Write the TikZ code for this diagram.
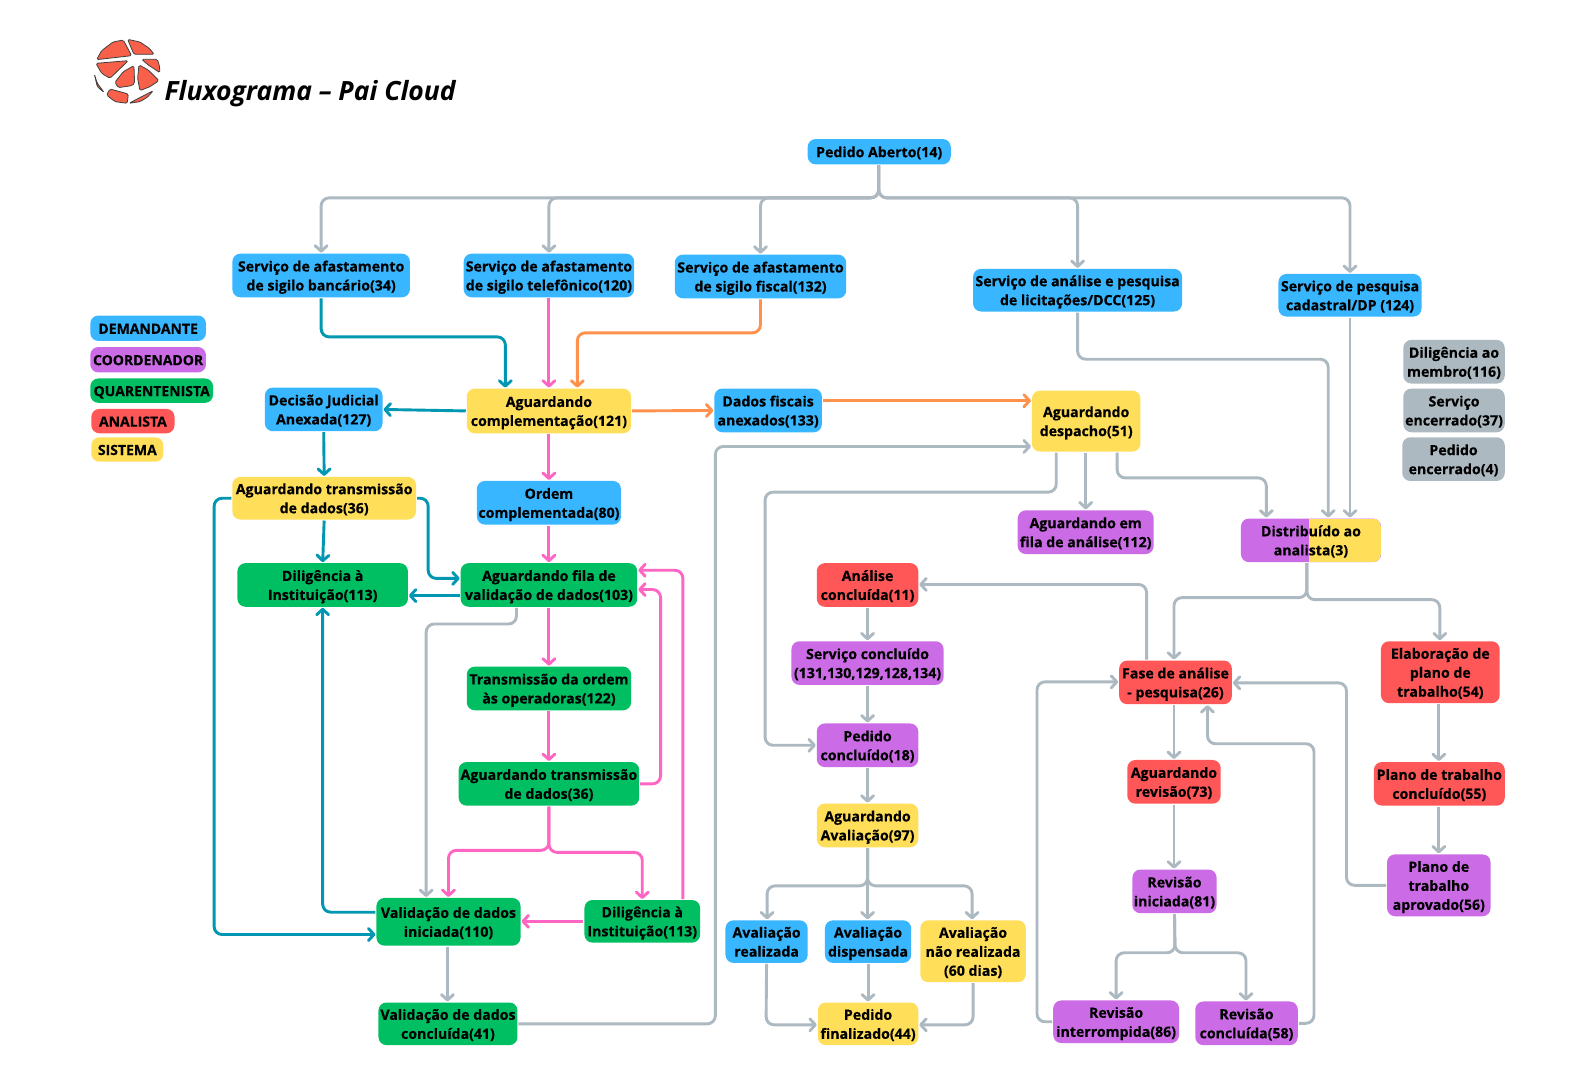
\documentclass[tikz,border=0pt]{standalone}
\usepackage{fontspec}
\setmainfont{Open Sans}[BoldFeatures={FakeBold=0.35}]
\newfontfamily\titlefont{Open Sans}[BoldFeatures={FakeBold=0.6}]
\usetikzlibrary{arrows.meta,calc}
\definecolor{cblue}{HTML}{38B6FF}
\definecolor{cyellow}{HTML}{FFDE59}
\definecolor{cgreen}{HTML}{00BF63}
\definecolor{cred}{HTML}{FF5757}
\definecolor{cpurple}{HTML}{CB6CE6}
\definecolor{cgrey}{HTML}{ADB9C1}
\definecolor{cteal}{HTML}{0097B2}
\definecolor{cpink}{HTML}{FF66C4}
\definecolor{corange}{HTML}{FF914D}
\definecolor{clogo}{HTML}{F9604A}
\tikzset{
  box/.style={rounded corners=8pt,inner sep=0pt,outer sep=0pt,align=center,
    font=\fontsize{14.15}{19}\selectfont\bfseries,text=black},
  legend/.style={box,font=\fontsize{14}{19}\selectfont\bfseries},
  conn/.style={line width=2.9pt,rounded corners=8pt,shorten >=1pt,shorten <=1pt,
    -{Straight Barb[length=5.5pt,width=12pt,round,line width=2.9pt]}},
  frag/.style={fill=clogo,draw=black!75,line width=0.8pt,rounded corners=1.5pt},
}
\newcommand\bn[8][]{%
  \pgfmathsetlengthmacro\bw{(#5-#3)*1.0147pt}%
  \pgfmathsetlengthmacro\bh{(#6-#4)*1.0147pt}%
  \node[box,fill=#7,minimum width=\bw,minimum height=\bh,#1] (#2) at ({(#3+#5)/2},{(#4+#6)/2}) {\rule{0pt}{15pt}#8\rule[-4pt]{0pt}{4pt}};%
}
\begin{document}
\begin{tikzpicture}[x=1.0147pt,y=-1.0147pt]
\useasboundingbox (0,0) rectangle (1568,1064.4);
\fill[white] (0,0) rectangle (1568,1064.4);
% logo
\begin{scope}[shift={(59.1,19.7)},x=0.3333pt,y=-0.3333pt]
\draw[frag] (110,119)--(125,92)--(159,66)--(190,60)--(215,107)--cycle;
\draw[frag] (203,58)--(240,66)--(268,85)--(283,103)--(222,103)--cycle;
\draw[frag] (245,118)--(292,118)--(298,135)--(300,158)--(265,135)--cycle;
\draw[frag] (108,130)--(205,122)--(150,175)--(125,160)--cycle;
\draw[frag] (222,137)--(224,190)--(215,197)--(175,203)--(165,187)--(190,155)--cycle;
\draw[frag] (237,135)--(265,150)--(297,182)--(270,200)--(240,212)--(233,175)--cycle;
\draw[frag] (103,162)--(112,190)--(133,218)--(112,200)--cycle;
\draw[frag] (150,207)--(205,222)--(202,250)--(165,245)--(140,225)--cycle;
\draw[frag] (207,250)--(280,212)--(262,232)--(240,245)--cycle;
\end{scope}
\node[anchor=base west,inner sep=0pt,font=\titlefont\fontsize{26.5}{30}\selectfont\bfseries\itshape] (title) at (162,99) {Fluxograma – Pai Cloud};
% legend
\bn[legend]{l1}{89}{311}{203}{336}{cblue}{DEMANDANTE}
\bn[legend]{l2}{89}{342}{203}{367}{cpurple}{COORDENADOR}
\bn[legend]{l3}{89}{373}{210}{397}{cgreen}{QUARENTENISTA}
\bn[legend]{l4}{90}{403}{172}{427}{cred}{ANALISTA}
\bn[legend]{l5}{90}{431}{161}{455}{cyellow}{SISTEMA}
% grey
\bn{g1}{1383}{335}{1483}{378}{cgrey}{Diligência ao\\membro(116)}
\bn{g2}{1383}{383}{1483}{426}{cgrey}{Serviço\\encerrado(37)}
\bn{g3}{1382}{431}{1483}{474}{cgrey}{Pedido\\encerrado(4)}
% nodes
\bn{pedido}{796}{137}{937}{162}{cblue}{Pedido Aberto(14)}
\bn{banc}{229}{250}{404}{293}{cblue}{Serviço de afastamento\\de sigilo bancário(34)}
\bn{tel}{457}{250}{625}{293}{cblue}{Serviço de afastamento\\de sigilo telefônico(120)}
\bn{fisc}{665}{251}{834}{294}{cblue}{Serviço de afastamento\\de sigilo fiscal(132)}
\bn{lic}{959}{265}{1165}{307}{cblue}{Serviço de análise e pesquisa\\de licitações/DCC(125)}
\bn{cad}{1260}{270}{1401}{312}{cblue}{Serviço de pesquisa\\cadastral/DP (124)}
\bn{dec}{261}{382}{377}{425}{cblue}{Decisão Judicial\\Anexada(127)}
\bn{comp}{460}{383}{622}{427}{cyellow}{Aguardando\\complementação(121)}
\bn{dfisc}{704}{383}{810}{426}{cblue}{Dados fiscais\\anexados(133)}
\bn{desp}{1017}{385}{1124}{445}{cyellow}{Aguardando\\despacho(51)}
\bn{ord}{470}{474}{612}{517}{cblue}{Ordem\\complementada(80)}
\bn{tra}{229}{470}{410}{512}{cyellow}{Aguardando transmissão\\de dados(36)}
\bn{dila}{234}{555}{402}{598}{cgreen}{Diligência à\\Instituição(113)}
\bn{fila}{454}{555}{628}{598}{cgreen}{Aguardando fila de\\validação de dados(103)}
\bn{emf}{1003}{503}{1137}{546}{cpurple}{Aguardando em\\fila de análise(112)}
\bn[path picture={\fill[cyellow,sharp corners] ([xshift=-2pt]path picture bounding box.north) rectangle (path picture bounding box.south east);}]{dist}{1223}{511}{1361}{554}{cpurple}{Distribuído ao\\analista(3)}
\bn{anc}{805}{555}{905}{598}{cred}{Análise\\concluída(11)}
\bn{sco}{780}{632}{930}{675}{cpurple}{Serviço concluído\\(131,130,129,128,134)}
\bn{top}{460}{657}{622}{700}{cgreen}{Transmissão da ordem\\às operadoras(122)}
\bn{fase}{1103}{651}{1214}{694}{cred}{Fase de análise\\- pesquisa(26)}
\bn{elab}{1361}{632}{1478}{693}{cred}{Elaboração de\\plano de\\trabalho(54)}
\bn{pco}{805}{713}{905}{756}{cpurple}{Pedido\\concluído(18)}
\bn{trb}{452}{751}{630}{794}{cgreen}{Aguardando transmissão\\de dados(36)}
\bn{arv}{1111}{749}{1203}{792}{cred}{Aguardando\\revisão(73)}
\bn{pla}{1354}{751}{1483}{794}{cred}{Plano de trabalho\\concluído(55)}
\bn{aav}{805}{792}{905}{835}{cyellow}{Aguardando\\Avaliação(97)}
\bn{rin}{1116}{857}{1199}{900}{cpurple}{Revisão\\iniciada(81)}
\bn{pap}{1367}{842}{1469}{903}{cpurple}{Plano de\\trabalho\\aprovado(56)}
\bn{vin}{371}{885}{513}{932}{cgreen}{Validação de dados\\iniciada(110)}
\bn{dilb}{576}{887}{690}{929}{cgreen}{Diligência à\\Instituição(113)}
\bn{are}{715}{907}{796}{949}{cblue}{Avaliação\\realizada}
\bn{adi}{813}{907}{898}{949}{cblue}{Avaliação\\dispensada}
\bn{ano}{907}{907}{1011}{968}{cyellow}{Avaliação\\não realizada\\(60 dias)}
\bn{vco}{373}{988}{510}{1030}{cgreen}{Validação de dados\\concluída(41)}
\bn{pfi}{806}{988}{905}{1030}{cyellow}{Pedido\\finalizado(44)}
\bn{rit}{1038}{986}{1162}{1028}{cpurple}{Revisão\\interrompida(86)}
\bn{rco}{1178}{987}{1279}{1030}{cpurple}{Revisão\\concluída(58)}
% grey connectors
\foreach \t in {banc,tel,fisc,lic,cad}{
  \draw[conn,cgrey] (866,0 |- pedido.south) -- (866,195) -- (\t.north |- 0,195) -- (\t.north);
}
\draw[conn,cgrey] (lic.south) -- (lic.south |- 0,354) -- (1309,354) -- (1309,0 |- dist.north);
\draw[conn,cgrey] (cad.south) -- (cad.south |- dist.north);
\draw[conn,cgrey] (509,0 |- fila.south) -- (509,615) -- (420,615) -- (420,0 |- vin.north);
\draw[conn,cgrey] (441,0 |- vin.south) -- (441,0 |- vco.north);
\draw[conn,cgrey] (vco.east) -- (705,0 |- vco.east) -- (705,440) -- (desp.west |- 0,440);
\draw[conn,cgrey] (1041,0 |- desp.south) -- (1041,485) -- (754,485) -- (754,0 |- pco.west) -- (pco.west);
\draw[conn,cgrey] (1070,0 |- desp.south) -- (1070,0 |- emf.north);
\draw[conn,cgrey] (1101,0 |- desp.south) -- (1101,471) -- (1248,471) -- (1248,0 |- dist.north);
\draw[conn,cgrey] (1288,0 |- dist.south) -- (1288,589) -- (1157,589) -- (1157,0 |- fase.north);
\draw[conn,cgrey] (1288,0 |- dist.south) -- (1288,591) -- (1419,591) -- (1419,0 |- elab.north);
\draw[conn,cgrey] (1130,0 |- fase.north) -- (1130,576) -- (anc.east |- 0,576);
\draw[conn,cgrey] (anc.south) -- (anc.south |- sco.north);
\draw[conn,cgrey] (sco.south) -- (pco.north);
\draw[conn,cgrey] (pco.south) -- (aav.north);
\draw[conn,cgrey] (aav.south) -- (855,873) -- (756,873) -- (756,0 |- are.north);
\draw[conn,cgrey] (aav.south) -- (adi.north -| aav.south);
\draw[conn,cgrey] (aav.south) -- (855,873) -- (958,873) -- (958,0 |- ano.north);
\draw[conn,cgrey] (are.south) -- (755,1010) -- (pfi.west |- 0,1010);
\draw[conn,cgrey] (adi.south -| pfi.north) -- (pfi.north);
\draw[conn,cgrey] (ano.south) -- (ano.south |- 0,1010) -- (pfi.east |- 0,1010);
\draw[conn,cgrey] (1157,0 |- fase.south) -- (1157,0 |- arv.north);
\draw[conn,cgrey] (1157,0 |- arv.south) -- (1157,0 |- rin.north);
\draw[conn,cgrey] (rin.south) -- (1158,939) -- (1100,939) -- (1100,0 |- rit.north);
\draw[conn,cgrey] (rin.south) -- (1158,939) -- (1228,939) -- (1228,0 |- rco.north);
\draw[conn,cgrey] (rit.west) -- (1022,0 |- rit.west) -- (1022,672) -- (fase.west |- 0,672);
\draw[conn,cgrey] (rco.east) -- (1295,0 |- rco.east) -- (1295,733) -- (1190,733) -- (1190,0 |- fase.south);
\draw[conn,cgrey] (1418,0 |- elab.south) -- (1418,0 |- pla.north);
\draw[conn,cgrey] (1418,0 |- pla.south) -- (1418,0 |- pap.north);
\draw[conn,cgrey] (pap.west) -- (1327,0 |- pap.west) -- (1327,673) -- (fase.east |- 0,673);
% teal connectors
\draw[conn,cteal] (banc.south) -- (banc.south |- 0,332) -- (498,332) -- (498,0 |- comp.north);
\draw[conn,cteal] (comp.west) -- (dec.east);
\draw[conn,cteal] (dec.south) -- (tra.north);
\draw[conn,cteal] (tra.south) -- (dila.north);
\draw[conn,cteal] (tra.east) -- (422,0 |- tra.east) -- (422,570) -- (fila.west |- 0,570);
\draw[conn,cteal] (tra.west) -- (211,0 |- tra.west) -- (211,921) -- (vin.west |- 0,921);
\draw[conn,cteal] (fila.west |- 0,587) -- (dila.east |- 0,587);
\draw[conn,cteal] (vin.west |- 0,899) -- (318,899) -- (dila.south);
% pink connectors
\draw[conn,cpink] (tel.south) -- (tel.south |- comp.north);
\draw[conn,cpink] (comp.south) -- (ord.north);
\draw[conn,cpink] (ord.south) -- (fila.north);
\draw[conn,cpink] (fila.south) -- (top.north);
\draw[conn,cpink] (top.south) -- (trb.north);
\draw[conn,cpink] (trb.east) -- (651,0 |- trb.east) -- (651,581) -- (fila.east |- 0,581);
\draw[conn,cpink] (673,0 |- dilb.north) -- (673,562) -- (fila.east |- 0,562);
\draw[conn,cpink] (trb.south) -- (541,838) -- (442,838) -- (442,0 |- vin.north);
\draw[conn,cpink] (trb.south) -- (541,840) -- (633,840) -- (633,0 |- dilb.north);
\draw[conn,cpink] (dilb.west) -- (vin.east |- dilb.west);
% orange connectors
\draw[conn,corange] (fisc.south) -- (fisc.south |- 0,328) -- (569,328) -- (569,0 |- comp.north);
\draw[conn,corange] (comp.east) -- (dfisc.west);
\draw[conn,corange] (dfisc.east |- 0,395) -- (desp.west |- 0,395);
\end{tikzpicture}
\end{document}
